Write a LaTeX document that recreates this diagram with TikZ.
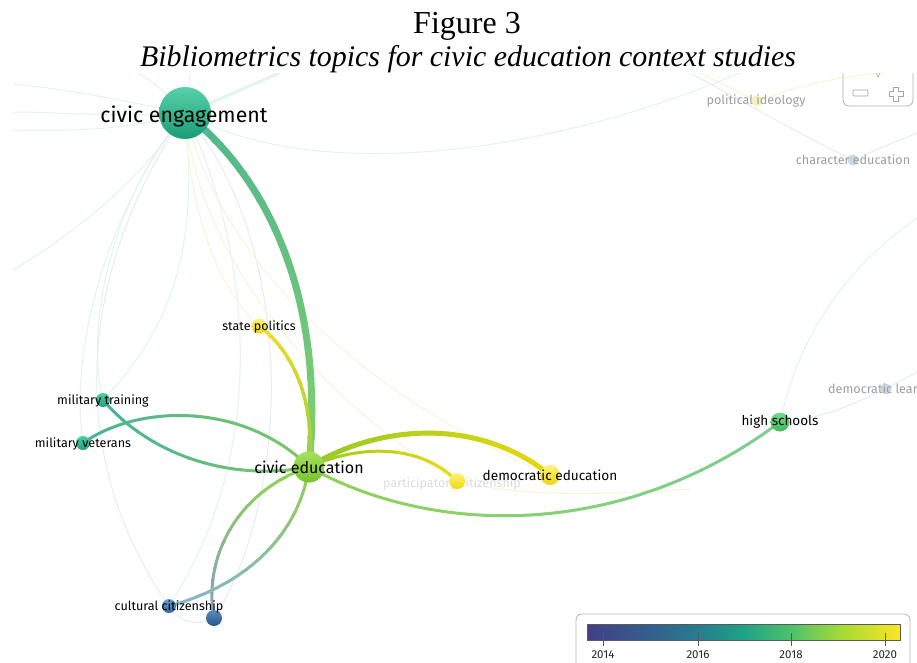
\documentclass[tikz,border=0pt]{standalone}
\usepackage{fontspec}
\setmainfont{Liberation Serif}
\newfontfamily\lbl{Fira Sans}
\pgfdeclarelayer{bglayer}
\pgfdeclarelayer{faintlayer}
\pgfdeclarelayer{edgelayer}
\pgfsetlayers{bglayer,faintlayer,edgelayer,main}
\definecolor{ceC}{HTML}{1A9C78}\definecolor{ceL}{HTML}{56D1A6}
\definecolor{edC}{HTML}{76C42C}\definecolor{edL}{HTML}{A6E05E}
\definecolor{yelC}{HTML}{EBD80E}\definecolor{yelL}{HTML}{FFF27A}
\definecolor{hsC}{HTML}{3FB95E}\definecolor{hsL}{HTML}{72DC8C}
\definecolor{mtC}{HTML}{1FA07C}\definecolor{mtL}{HTML}{52CDA2}
\definecolor{ccC}{HTML}{2F679B}\definecolor{ccL}{HTML}{6C9ECD}
\definecolor{dbC}{HTML}{245690}\definecolor{dbL}{HTML}{5A8ABF}
\definecolor{mainTop}{HTML}{52B88C}\definecolor{mainBot}{HTML}{80CF6C}
\definecolor{fG}{HTML}{E2F4ED}\definecolor{fY}{HTML}{F5F7D8}\definecolor{fB}{HTML}{E5EDF4}
\definecolor{faintY}{HTML}{F6F2BE}\definecolor{faintB}{HTML}{CBD8E4}
\definecolor{v1}{HTML}{433F86}\definecolor{v2}{HTML}{345F8D}\definecolor{v3}{HTML}{287E8E}
\definecolor{v4}{HTML}{1FA186}\definecolor{v5}{HTML}{4BC16C}\definecolor{v6}{HTML}{A2DA37}
\definecolor{v7}{HTML}{FBE625}
\newcommand{\gradY}[6]{%
  \foreach \gi in {0,...,11}{%
    \pgfmathtruncatemacro\gp{100*\gi/11}%
    \begin{scope}
      \clip (0,{#5+(#6-#5)*\gi/12-0.6-60*(\gi==0)}) rectangle (917,{#5+(#6-#5)*(\gi+1)/12+0.6+60*(\gi==11)});
      \draw[line width=#4, draw=#3!\gp!#2, line cap=round] #1;
    \end{scope}}}
\newcommand{\gradX}[6]{%
  \foreach \gi in {0,...,11}{%
    \pgfmathtruncatemacro\gp{100*\gi/11}%
    \begin{scope}
      \clip ({#5+(#6-#5)*\gi/12-0.6-60*(\gi==0)},0) rectangle ({#5+(#6-#5)*(\gi+1)/12+0.6+60*(\gi==11)},700);
      \draw[line width=#4, draw=#3!\gp!#2, line cap=round] #1;
    \end{scope}}}
\tikzset{
  kw/.style n args={3}{circle, inner sep=0pt, minimum size=#1, top color=#2, bottom color=#3, draw=none},
  lab/.style={font=\lbl\fontsize{#1}{#1}\selectfont, text=black, inner sep=0pt},
  glab/.style={font=\lbl\fontsize{#1}{#1}\selectfont, text=black!38, inner sep=0pt},
  faint/.style={line width=1pt, draw=#1},
  ttl/.style={font=\fontsize{#1}{#1}\selectfont, inner sep=0pt, anchor=base},
}
\begin{document}
\begin{tikzpicture}[x=1pt,y=-1pt]
\begin{pgfonlayer}{bglayer}
\fill[white] (0,0) rectangle (917,662);
\end{pgfonlayer}
\useasboundingbox (0,0) rectangle (917,662);
% title
\node[ttl=32] (fig) at (467,33) {Figure 3};
\node[ttl=30, font=\itshape\fontsize{29.9}{30}\selectfont] (sub) at (468,66) {Bibliometrics topics for civic education context studies};
\begin{scope}
\clip (13,73) rectangle (917,662);
% nodes
\node[kw={52pt}{ceL}{ceC}] (ce) at (185,113) {};
\node[kw={31pt}{edL}{edC}] (ced) at (309,467) {};
\node[kw={15pt}{yelL}{yelC}] (sp) at (259,326) {};
\node[kw={14pt}{mtL}{mtC}] (mt) at (103,400) {};
\node[kw={14pt}{mtL}{mtC}] (mv) at (83,443) {};
\node[kw={20pt}{yelL}{yelC}] (de) at (550,475) {};
\node[kw={16pt}{yelL}{yelC}] (pc) at (457,481) {};
\node[kw={19pt}{hsL}{hsC}] (hs) at (780,422) {};
\node[kw={14pt}{ccL}{ccC}] (cc) at (169,606) {};
\node[kw={16pt}{dbL}{dbC}] (db) at (214,618) {};
\node[circle, inner sep=0pt, minimum size=11pt, fill=faintY] (pi) at (757,101) {};
\node[circle, inner sep=0pt, minimum size=11pt, fill=faintB] (che) at (853,160) {};
\node[circle, inner sep=0pt, minimum size=11pt, fill=faintB] (dl) at (886,389) {};
\coordinate (L1) at (13,84);\coordinate (L2) at (13,112);\coordinate (L3) at (13,130);
\coordinate (L4) at (13,270);\coordinate (T1) at (138,73);\coordinate (T2) at (190,73);
\coordinate (T3) at (280,73);\coordinate (T4) at (740,73);\coordinate (T5) at (700,73);
\coordinate (T6) at (885,73);\coordinate (T7) at (690,73);\coordinate (R1) at (917,133);
\coordinate (R2) at (917,218);\coordinate (R3) at (917,372);\coordinate (E1) at (690,489);
\begin{pgfonlayer}{faintlayer}
\clip (13,73) rectangle (917,662);
\draw[faint=fG] (ce.center) .. controls (120,100) and (60,88) .. (L1);
\draw[faint=fG] (ce.center) .. controls (120,118) and (60,112) .. (L2);
\draw[faint=fG] (ce.center) .. controls (140,128) and (80,132) .. (L3);
\draw[faint=fG] (ce.center) .. controls (140,180) and (80,230) .. (L4);
\draw[faint=fG] (ce.center) .. controls (170,95) and (150,80) .. (T1);
\draw[faint=fG] (ce.center) .. controls (188,100) and (189,85) .. (T2);
\draw[faint=fG, line width=3pt] (ce.center) .. controls (220,100) and (250,85) .. (T3);
\draw[faint=fG] (ce.center) .. controls (300,178) and (520,165) .. (T4);
\draw[faint=fG] (ce.center) .. controls (110,200) and (85,330) .. (mt.center);
\draw[faint=fG] (ce.center) .. controls (200,250) and (170,330) .. (mt.center);
\draw[faint=fG] (ce.center) .. controls (100,220) and (70,360) .. (mv.center);
\draw[faint=fB] (ce.center) .. controls (60,300) and (80,480) .. (cc.center);
\draw[faint=fB] (ce.center) .. controls (300,250) and (290,500) .. (db.center);
\draw[faint=fG] (ce.center) .. controls (230,200) and (290,420) .. (cc.center);
\draw[faint=fY] (ce.center) .. controls (190,220) and (220,290) .. (sp.center);
\draw[faint=fY] (ce.center) .. controls (230,300) and (420,420) .. (de.center);
\draw[faint=fY] (ce.center) .. controls (200,280) and (350,420) .. (pc.center);
\draw[faint=fB] (cc.center) .. controls (180,624) and (200,626) .. (db.center);
\draw[faint=fY] (pi.center) .. controls (735,90) and (715,80) .. (T5);
\draw[faint=fY] (pi.center) .. controls (800,85) and (840,76) .. (T6);
\draw[faint=fB] (T7) .. controls (750,105) and (810,140) .. (che.center);
\draw[faint=fB] (che.center) .. controls (880,148) and (900,140) .. (R1);
\draw[faint=fG] (hs.center) .. controls (800,330) and (850,265) .. (R2);
\draw[faint=fB] (hs.center) .. controls (830,418) and (860,400) .. (dl.center);
\draw[faint=fB] (dl.center) .. controls (898,382) and (908,377) .. (R3);
\draw[faint=fY] (pc.center) .. controls (520,497) and (600,495) .. (E1);
\node[glab=12.5, text=black!14] (pcT) at (452,484) {participatory citizenship};
\end{pgfonlayer}
\begin{pgfonlayer}{edgelayer}
\gradY{(ce.center) .. controls (262,172) and (326,290) .. (ced.center)}{mainTop}{mainBot}{7pt}{113}{467}
\gradY{(sp.center) .. controls (292,350) and (316,400) .. (ced.center)}{yelC!90!white}{edC!75!yelC}{3.5pt}{326}{460}
\gradX{(mt.center) .. controls (150,455) and (230,482) .. (ced.center)}{mtC!80!white}{edC!70!mtC}{3pt}{103}{309}
\gradX{(mv.center) .. controls (140,403) and (245,403) .. (ced.center)}{mtC!80!white}{edC!70!mtC}{3pt}{83}{309}
\gradX{(ced.center) .. controls (380,423) and (480,418) .. (de.center)}{edC!72!yelC}{yelC!92!edC}{5pt}{309}{550}
\gradX{(ced.center) .. controls (360,444) and (420,444) .. (pc.center)}{edC!70!yelC}{yelC}{3pt}{309}{457}
\gradX{(ced.center) .. controls (430,535) and (620,542) .. (hs.center)}{edC!80!white}{hsC!85!white}{3pt}{309}{780}
\gradY{(ced.center) .. controls (235,492) and (203,560) .. (db.center)}{edC!80!white}{dbC!70!white}{3pt}{467}{618}
\gradY{(ced.center) .. controls (298,540) and (240,587) .. (cc.center)}{edC!80!white}{ccC!60!mtC!70!white}{3pt}{467}{606}
\end{pgfonlayer}
% labels
\node[lab=21.3] (ceT) at (184,116) {civic engagement};
\node[lab=16] (cedT) at (309,467) {civic education};
\node[lab=13.6] (deT) at (550,475) {democratic education};
\node[lab=13.5] (hsT) at (780,422) {high schools};
\node[lab=12.5] (spT) at (259,327) {state politics};
\node[lab=12.6] (mtT) at (103,401) {military training};
\node[lab=12.6] (mvT) at (83,444) {military veterans};
\node[lab=12.6] (ccT) at (169,607) {cultural citizenship};
\node[glab=12.6] (piT) at (756,101) {political ideology};
\node[glab=12.6] (cheT) at (853,160) {character education};
\node[glab=12.6, anchor=west] (dlT) at (828,389) {democratic lear};
% zoom control
\draw[black!30, line width=0.8pt, rounded corners=6pt] (843,60) -- (843,106) -- (913,106) -- (913,60);
\node[draw=black!35, line width=0.7pt, rounded corners=1pt, inner sep=0pt, minimum width=15pt, minimum height=6pt] (zminus) at (860.5,93) {};
\draw[black!35, line width=0.7pt] (893.5,87) -- (898.5,87) -- (898.5,91.5) -- (903,91.5) -- (903,96.5) -- (898.5,96.5) -- (898.5,101) -- (893.5,101) -- (893.5,96.5) -- (889,96.5) -- (889,91.5) -- (893.5,91.5) -- cycle;
\draw[black!35, line width=0.6pt] (876,73) -- (878,77) -- (880,73);
\end{scope}
% legend
\node[draw=black!28, line width=0.8pt, rounded corners=6pt, minimum width=334pt, minimum height=58pt, inner sep=0pt] (legend) at (743,643) {};
\shade[left color=v1, right color=v2] (587,624) rectangle (650,640);
\shade[left color=v2, right color=v3] (649.5,624) rectangle (700,640);
\shade[left color=v3, right color=v4] (699.5,624) rectangle (743,640);
\shade[left color=v4, right color=v5] (742.5,624) rectangle (790,640);
\shade[left color=v5, right color=v6] (789.5,624) rectangle (840,640);
\shade[left color=v6, right color=v7] (839.5,624) rectangle (900,640);
\node[draw=black!65, line width=0.8pt, inner sep=0pt, minimum width=313pt, minimum height=16pt] (bar) at (743.5,632) {};
\foreach \tx/\yr in {603/2014,698/2016,791/2018,885/2020}{
  \draw[black!65, line width=0.7pt] (\tx,633) -- (\tx,646);
  \node[font=\lbl\fontsize{11.5}{11.5}\selectfont, inner sep=0pt, text=black!85] (yr\yr) at (\tx,655) {\yr};
}
\end{tikzpicture}
\end{document}
